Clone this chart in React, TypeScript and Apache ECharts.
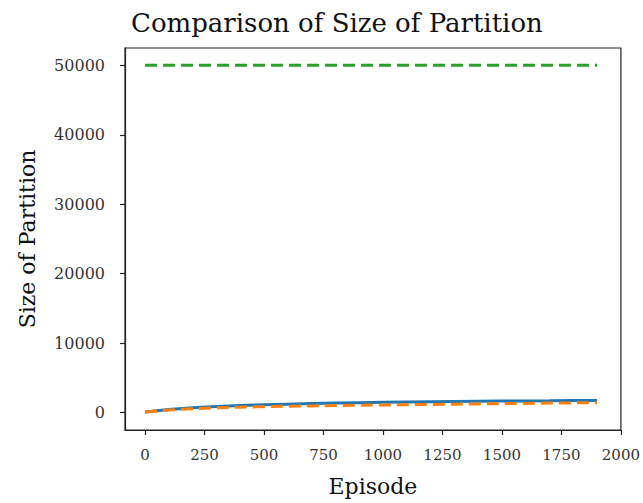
import React, { useEffect, useRef } from "react";
import * as echarts from "echarts";

const episodes = [0, 100, 200, 300, 400, 500, 600, 700, 800, 900, 1000, 1100, 1200, 1300, 1400, 1500, 1600, 1700, 1800, 1900];
const blueSeries = [100, 450, 700, 880, 1020, 1130, 1220, 1300, 1370, 1430, 1480, 1520, 1560, 1600, 1630, 1660, 1690, 1710, 1740, 1760];
const orangeSeries = [100, 380, 570, 700, 790, 860, 920, 970, 1020, 1060, 1100, 1140, 1180, 1220, 1260, 1300, 1330, 1370, 1400, 1440];
const greenSeries = [50000, 50000, 50000, 50000, 50000, 50000, 50000, 50000, 50000, 50000, 50000, 50000, 50000, 50000, 50000, 50000, 50000, 50000, 50000, 50000];
const xTicks = [0, 250, 500, 750, 1000, 1250, 1500, 1750, 2000];
const yTicks = [0, 10000, 20000, 30000, 40000, 50000];

const serif = "DejaVu Serif";

export default function App() {
  const ref = useRef<HTMLDivElement>(null);
  useEffect(() => {
    if (!ref.current) return;
    const chart = echarts.init(ref.current, undefined, { renderer: "svg" });
    const pair = (ys: number[]) => episodes.map((x, i) => [x, ys[i]]);
    chart.setOption({
      animation: false,
      backgroundColor: "#fff",
      title: {
        text: "Comparison of Size of Partition",
        left: 126,
        top: 5,
        textStyle: { fontFamily: serif, fontSize: 26, fontWeight: "normal", color: "#111" },
      },
      grid: {
        left: 125,
        right: 21,
        top: 48,
        bottom: 73,
        show: true,
        borderColor: "#222",
        borderWidth: 1.2,
        containLabel: false,
      },
      xAxis: {
        type: "value",
        min: -84,
        max: 2000,
        name: "Episode",
        nameLocation: "middle",
        nameGap: 45,
        nameTextStyle: { fontFamily: serif, fontSize: 22, color: "#111" },
        axisLine: { show: true, onZero: false, lineStyle: { color: "#222", width: 1.2 } },
        axisTick: { show: true, length: 5, inside: false, customValues: xTicks, lineStyle: { color: "#222", width: 1.2 } },
        axisLabel: { customValues: xTicks, margin: 17, fontFamily: serif, fontSize: 15, color: "#333", formatter: (v: number) => String(v) },
        splitLine: { show: false },
      },
      yAxis: {
        type: "value",
        min: -2500,
        max: 52500,
        name: "Size of Partition",
        nameLocation: "middle",
        nameGap: 87,
        nameTextStyle: { fontFamily: serif, fontSize: 22, color: "#111" },
        axisLine: { show: true, onZero: false, lineStyle: { color: "#222", width: 1.2 } },
        axisTick: { show: true, length: 5, inside: false, customValues: yTicks, lineStyle: { color: "#222", width: 1.2 } },
        axisLabel: { customValues: yTicks, margin: 20, fontFamily: serif, fontSize: 16, color: "#333", formatter: (v: number) => String(v) },
        splitLine: { show: false },
      },
      series: [
        {
          type: "line",
          data: pair(blueSeries),
          showSymbol: false,
          lineStyle: { color: "#1f77b4", width: 3 },
          z: 2,
        },
        {
          type: "line",
          data: pair(orangeSeries),
          showSymbol: false,
          lineStyle: { color: "#ff7f0e", width: 3, type: [12, 6] },
          z: 3,
        },
        {
          type: "line",
          data: pair(greenSeries),
          showSymbol: false,
          lineStyle: { color: "#2ca02c", width: 3, type: [12, 6] },
          z: 4,
        },
      ],
    });
    return () => chart.dispose();
  }, []);
  return <div ref={ref} style={{ position: "fixed", left: 0, top: 0, width: 643, height: 503 }} />;
}
